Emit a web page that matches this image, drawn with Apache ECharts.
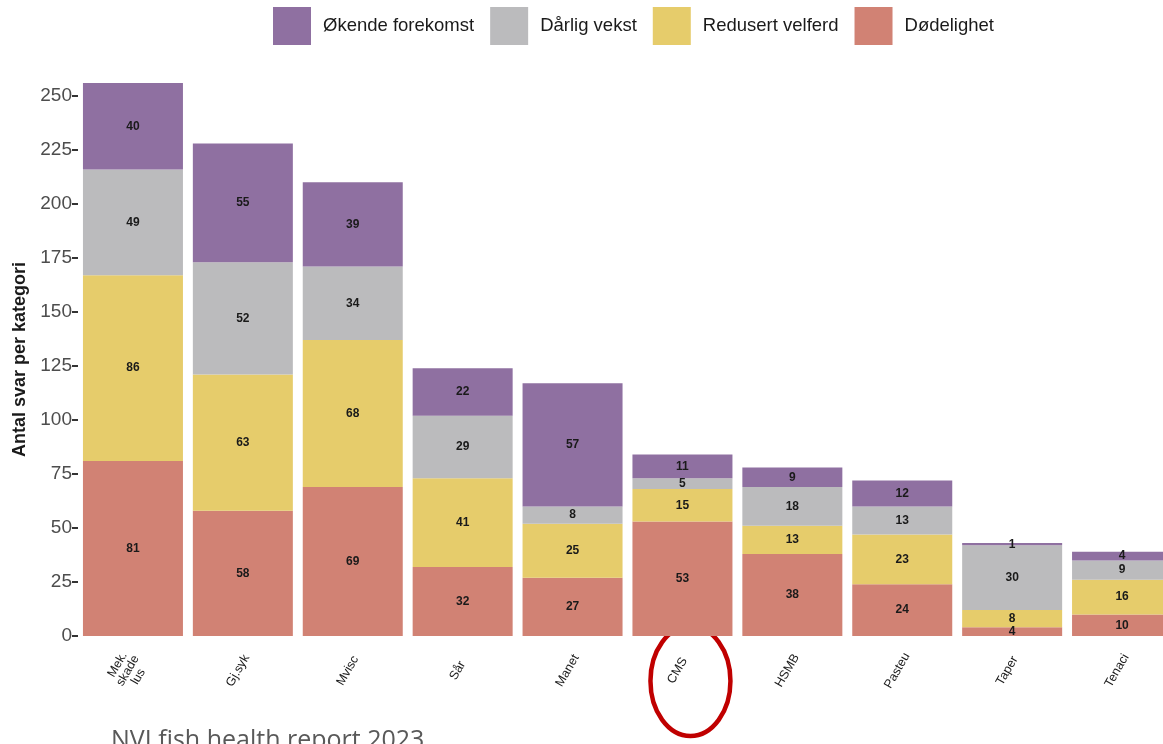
<!DOCTYPE html>
<html>
<head>
<meta charset="utf-8">
<script src="https://cdn.jsdelivr.net/npm/echarts@6/dist/echarts.min.js"></script>
<style>
html,body{margin:0;padding:0;background:#fff;}
#c{width:1163px;height:744px;}
</style>
</head>
<body>
<div id="c"></div>
<script>
var categories = ['Mek.\nskade\nlus','Gj.syk','Mvisc','Sår','Manet','CMS','HSMB','Pasteu','Taper','Tenaci'];
var dodelighet = [81, 58, 69, 32, 27, 53, 38, 24, 4, 10];
var redusertVelferd = [86, 63, 68, 41, 25, 15, 13, 23, 8, 16];
var darligVekst = [49, 52, 34, 29, 8, 5, 18, 13, 30, 9];
var okendeForekomst = [40, 55, 39, 22, 57, 11, 9, 12, 1, 4];
var yTicks = [0, 25, 50, 75, 100, 125, 150, 175, 200, 225, 250];
var seriesNames = ['Økende forekomst', 'Dårlig vekst', 'Redusert velferd', 'Dødelighet'];
var colors = {'Økende forekomst':'#8F70A1','Dårlig vekst':'#BBBBBD','Redusert velferd':'#E6CC6B','Dødelighet':'#D18274'};
var footnote = 'NVI fish health report 2023';

var chart = echarts.init(document.getElementById('c'), null, {renderer:'canvas'});
var FONT = '"Liberation Sans", Arial, sans-serif';

function mk(name, data){
  return {
    name: name, type: 'bar', stack: 'total', data: data,
    barWidth: 100,
    itemStyle: {color: colors[name]},
    label: {show: true, position: 'inside', fontFamily: FONT, fontWeight: 'bold', fontSize: 12, color: '#1a1a1a'},
    emphasis: {disabled: true}
  };
}

var option = {
  animation: false,
  backgroundColor: '#ffffff',
  textStyle: {fontFamily: FONT},
  legend: {
    data: seriesNames,
    left: 268, top: 2,
    itemWidth: 38, itemHeight: 38, itemGap: 16,
    icon: 'rect',
    textStyle: {fontFamily: FONT, fontSize: 18.5, color: '#1a1a1a', padding: [0,0,0,7]}
  },
  title: {
    text: footnote, left: 106, top: 723,
    textStyle: {fontFamily: '"Open Sans", "Noto Sans", sans-serif', fontSize: 25, fontWeight: 'normal', color: '#595959'}
  },
  grid: {left: 78, top: 83, width: 1099, height: 553, containLabel: false, outerBoundsMode: 'none'},
  xAxis: {
    type: 'category', data: categories,
    axisLine: {show: false}, axisTick: {show: false},
    axisLabel: {rotate: 60, margin: 26, padding: [0, 20, 0, 0], fontFamily: FONT, fontSize: 12.5, color: '#1a1a1a', interval: 0, lineHeight: 12, align: 'center'}
  },
  yAxis: {
    type: 'value', min: 0, max: 256,
    name: 'Antal svar per kategori', nameLocation: 'middle', nameGap: 48, nameRotate: 90,
    nameTextStyle: {fontFamily: FONT, fontSize: 18, fontWeight: 'bold', color: '#1a1a1a'},
    axisLine: {show: false},
    axisTick: {show: true, length: 6, customValues: yTicks, lineStyle: {color: '#333', width: 2}},
    axisLabel: {customValues: yTicks, fontFamily: FONT, fontSize: 19, color: '#4d4d4d', margin: 6},
    splitLine: {show: false}
  },
  series: [
    mk('Dødelighet', dodelighet),
    mk('Redusert velferd', redusertVelferd),
    mk('Dårlig vekst', darligVekst),
    mk('Økende forekomst', okendeForekomst)
  ]
};
chart.setOption(option);

var cx = chart.convertToPixel({xAxisIndex: 0}, 'CMS');
var y0 = chart.convertToPixel({yAxisIndex: 0}, 0);
chart.setOption({
  graphic: [{
    type: 'ellipse', silent: true,
    shape: {cx: cx + 8, cy: y0 + 45, rx: 40, ry: 55},
    style: {fill: 'none', stroke: '#C00000', lineWidth: 4.5}
  }]
});
</script>
</body>
</html>
